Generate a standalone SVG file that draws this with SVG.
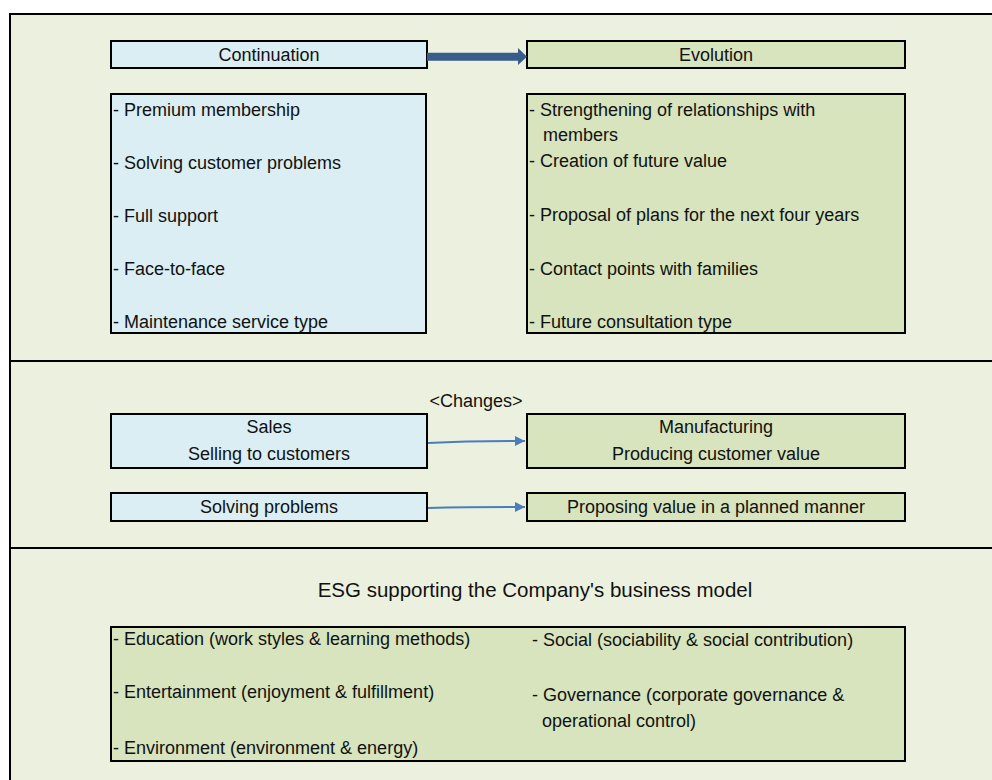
<svg xmlns="http://www.w3.org/2000/svg" width="992" height="780" viewBox="0 0 992 780">
<defs>
<style>
text{font-family:"Liberation Sans",Arial,sans-serif;font-size:18px;fill:#111}
.c{text-anchor:middle}
.blue{fill:#daeef3;stroke:#000;stroke-width:2}
.green{fill:#d7e4bd;stroke:#000;stroke-width:2}
.thin{stroke:#4a7ebb;stroke-width:2;fill:none}
</style>
<marker id="ah" viewBox="0 0 10 10" refX="10" refY="5" markerWidth="5" markerHeight="5" orient="auto" markerUnits="strokeWidth">
<path d="M0,0 L10,5 L0,10 Z" fill="#4a7ebb"/>
</marker>
</defs>
<rect x="0" y="0" width="992" height="780" fill="#fff"/>
<rect x="10" y="14" width="990" height="780" fill="#ebf1de" stroke="#000" stroke-width="2"/>
<line x1="10" y1="361" x2="992" y2="361" stroke="#000" stroke-width="2"/>
<line x1="10" y1="548" x2="992" y2="548" stroke="#000" stroke-width="2"/>

<g id="continuation"><rect class="blue" x="111" y="41" width="316" height="27"/><text class="c" x="269" y="61">Continuation</text></g>
<g id="evolution"><rect class="green" x="527" y="41" width="378" height="27"/><text class="c" x="716" y="61">Evolution</text></g>

<g id="continuation-list"><rect class="blue" x="111" y="94" width="315" height="239"/>
<text x="113" y="116">- Premium membership</text>
<text x="113" y="169">- Solving customer problems</text>
<text x="113" y="222">- Full support</text>
<text x="113" y="275">- Face-to-face</text>
<text x="113" y="328">- Maintenance service type</text>
</g>
<g id="evolution-list"><rect class="green" x="527" y="94" width="378" height="239"/>
<text x="529" y="116">- Strengthening of relationships with</text>
<text x="543" y="141">members</text>
<text x="529" y="167">- Creation of future value</text>
<text x="529" y="221">- Proposal of plans for the next four years</text>
<text x="529" y="275">- Contact points with families</text>
<text x="529" y="328">- Future consultation type</text>
</g>

<text id="changes-label" class="c" x="476" y="407">&lt;Changes&gt;</text>
<g id="sales"><rect class="blue" x="111" y="414" width="316" height="54"/><text class="c" x="269" y="433">Sales</text><text class="c" x="269" y="460">Selling to customers</text></g>
<g id="manufacturing"><rect class="green" x="527" y="414" width="378" height="54"/><text class="c" x="716" y="433">Manufacturing</text><text class="c" x="716" y="460">Producing customer value</text></g>
<g id="solving"><rect class="blue" x="111" y="493" width="316" height="28"/><text class="c" x="269" y="513">Solving problems</text></g>
<g id="proposing"><rect class="green" x="527" y="493" width="378" height="28"/><text class="c" x="716" y="513">Proposing value in a planned manner</text></g>

<text id="esg-title" class="c" x="535" y="597" style="font-size:20.5px">ESG supporting the Company's business model</text>
<g id="esg"><rect class="green" x="111" y="627" width="794" height="134"/>
<text x="113" y="645">- Education (work styles &amp; learning methods)</text>
<text x="113" y="698">- Entertainment (enjoyment &amp; fulfillment)</text>
<text x="113" y="754">- Environment (environment &amp; energy)</text>
<text x="532" y="646">- Social (sociability &amp; social contribution)</text>
<text x="532" y="701">- Governance (corporate governance &amp;</text>
<text x="542" y="727">operational control)</text>
</g>

<g id="connectors">
<path d="M427,52.7 L518,52.7 L518,48 L527,56.7 L518,65 L518,60.7 L427,60.7 Z" fill="#385d8a"/>
<path class="thin" d="M428,443 Q470,441 525,441" marker-end="url(#ah)"/>
<path class="thin" d="M428,508 Q470,507 525,507" marker-end="url(#ah)"/>
</g>
</svg>
